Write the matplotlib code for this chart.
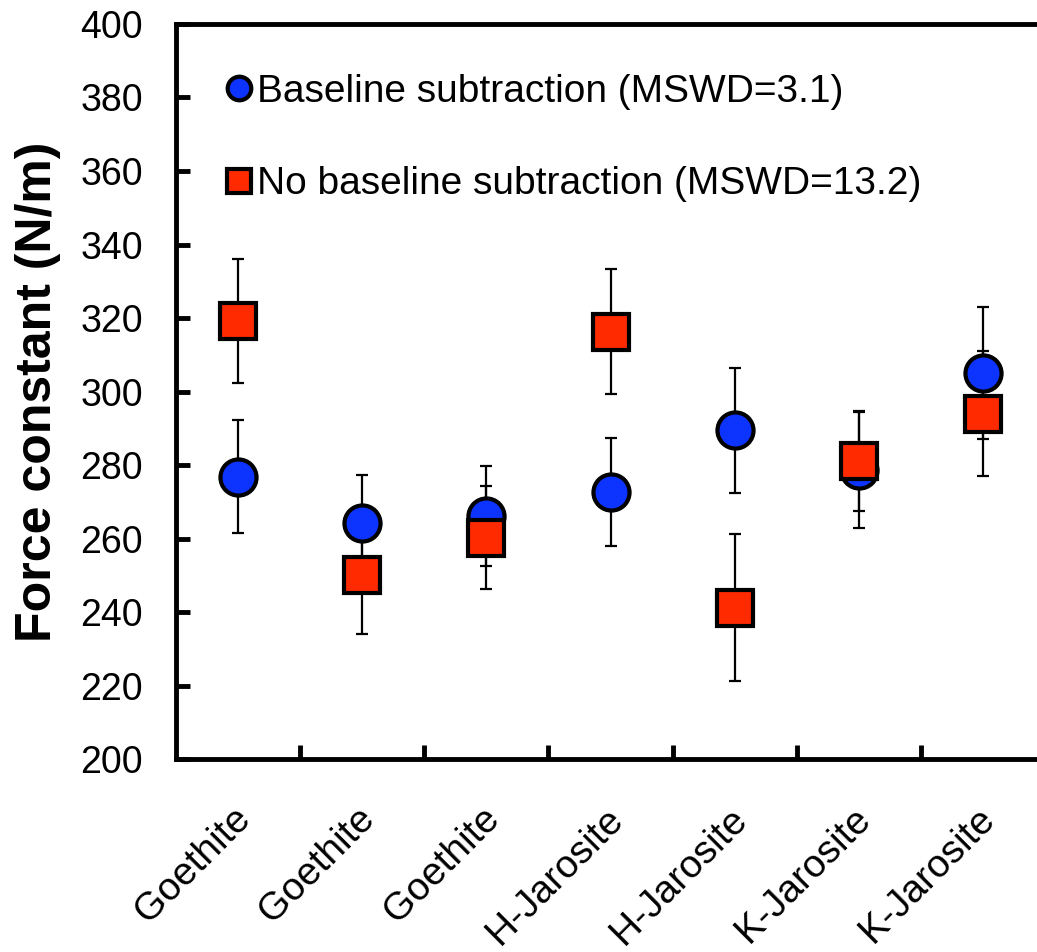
import matplotlib
matplotlib.use("Agg")
import matplotlib.pyplot as plt
from matplotlib.lines import Line2D
import matplotlib.transforms as mtransforms
import numpy as np

plt.rcParams['font.family'] = ['Liberation Sans', 'DejaVu Sans']

categories = ['Goethite', 'Goethite', 'Goethite', 'H-Jarosite', 'H-Jarosite',
              'K-Jarosite', 'K-Jarosite']
base_vals = [276.8, 264.2, 266.1, 272.7, 289.4, 278.6, 305.1]
base_err = [15.4, 13.2, 13.5, 14.6, 17.0, 15.8, 18.0]
nobase_vals = [319.2, 250.1, 260.2, 316.3, 241.1, 281.1, 294.0]
nobase_err = [16.9, 16.0, 14.0, 17.0, 20.0, 13.5, 17.0]
label_base = 'Baseline subtraction (MSWD=3.1)'
label_nobase = 'No baseline subtraction (MSWD=13.2)'
yticks = [200, 220, 240, 260, 280, 300, 320, 340, 360, 380, 400]

blue = '#0D33FF'
red = '#FF2A00'

fig = plt.figure(figsize=(10.37, 9.52), dpi=100)
ax = fig.add_axes([0.170, 0.2027, 0.8375, 0.7721])

x = np.arange(len(categories))

ax.errorbar(x, base_vals, yerr=base_err, fmt='none', ecolor='black',
            elinewidth=1.6, capsize=4.5, capthick=1.6, zorder=2)
ax.errorbar(x, nobase_vals, yerr=nobase_err, fmt='none', ecolor='black',
            elinewidth=1.6, capsize=4.5, capthick=1.6, zorder=2)
ax.plot(x, base_vals, linestyle='none', marker='o', markersize=26,
        markerfacecolor=blue, markeredgecolor='black', markeredgewidth=3, zorder=3)
ax.plot(x, nobase_vals, linestyle='none', marker='s', markersize=26,
        markerfacecolor=red, markeredgecolor='black', markeredgewidth=3, zorder=4)

ax.set_xlim(-0.5, len(categories) - 0.5)
ax.set_ylim(200, 400)
ax.set_yticks(yticks)
ax.set_yticklabels([str(v) for v in yticks])
ax.tick_params(axis='y', direction='in', length=10, width=3.5, labelsize=27, pad=24)

ax.set_xticks(x)
ax.set_xticklabels(categories, rotation=45, ha='right', va='center',
                   rotation_mode='anchor', fontsize=28)
ax.tick_params(axis='x', which='major', length=0, pad=39)
offset = mtransforms.ScaledTranslation(7 / 100, 0, fig.dpi_scale_trans)
for lab in ax.get_xticklabels():
    lab.set_transform(lab.get_transform() + offset)
ax.set_xticks(np.arange(0.5, len(categories) - 1, 1.0), minor=True)
ax.tick_params(axis='x', which='minor', direction='in', length=10, width=3.5)

for side in ['left', 'bottom', 'top']:
    ax.spines[side].set_linewidth(3.5)
ax.spines['right'].set_visible(False)

ax.set_ylabel('Force constant (N/m)', fontsize=36, fontweight='bold', labelpad=14)

handles = [
    Line2D([], [], linestyle='none', marker='o', markersize=17,
           markerfacecolor=blue, markeredgecolor='black', markeredgewidth=3),
    Line2D([], [], linestyle='none', marker='s', markersize=17,
           markerfacecolor=red, markeredgecolor='black', markeredgewidth=3),
]
ax.legend(handles, [label_base, label_nobase], loc='upper left',
          bbox_to_anchor=(0.059, 0.932), frameon=False, fontsize=28,
          handlelength=0.6, handletextpad=0.17, labelspacing=1.45,
          borderaxespad=0, borderpad=0)

fig.savefig('out.png', dpi=100)
